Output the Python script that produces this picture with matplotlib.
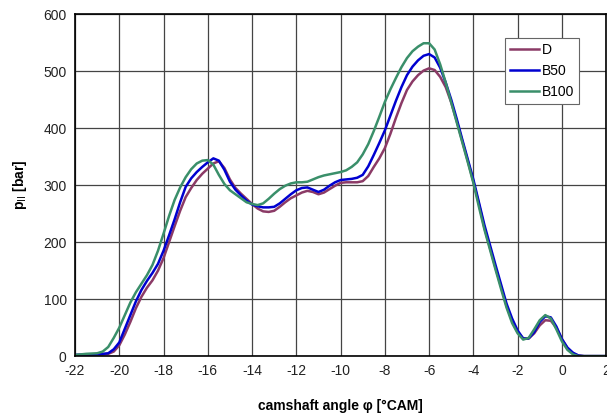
import numpy as np
import matplotlib
matplotlib.use("Agg")
import matplotlib.pyplot as plt

plt.rcParams['font.family'] = ['Liberation Sans', 'DejaVu Sans']
plt.rcParams['axes.unicode_minus'] = False

# angle de came [°CAM]
angle = [-22, -21.5, -21, -20.75, -20.5, -20.25,
         -20, -19.75, -19.5, -19.25, -19, -18.75, -18.5, -18.25,
         -18, -17.75, -17.5, -17.25, -17, -16.75, -16.5, -16.25,
         -16, -15.75, -15.5, -15.25, -15, -14.75, -14.5, -14.25,
         -14, -13.75, -13.5, -13.25, -13, -12.75, -12.5, -12.25,
         -12, -11.75, -11.5, -11.25, -11, -10.75, -10.5, -10.25,
         -10, -9.75, -9.5, -9.25, -9, -8.75, -8.5, -8.25,
         -8, -7.75, -7.5, -7.25, -7, -6.75, -6.5, -6.25,
         -6, -5.75, -5.5, -5.25, -5, -4.75, -4.5, -4.25,
         -4, -3.75, -3.5, -3.25, -3, -2.75, -2.5, -2.25,
         -2, -1.75, -1.5, -1.25, -1, -0.75, -0.5, -0.25,
         0, 0.25, 0.5, 0.75, 1, 1.5, 2]

# pression [bar]
p_d = [2, 2, 3, 3, 4, 8,
       19, 38, 60, 84, 104, 120, 133, 150,
       172, 200, 228, 255, 279, 295, 309, 320,
       329, 338, 342, 330, 310, 295, 285, 276,
       267, 259, 254, 253, 255, 262, 270, 277,
       282, 287, 290, 288, 284, 287, 293, 299,
       304, 305, 305, 305, 307, 316, 332, 347,
       365, 390, 418, 444, 467, 482, 493, 501,
       505, 502, 490, 472, 445, 412, 377, 342,
       306, 267, 225, 190, 155, 122, 88, 62,
       42, 31, 31, 40, 54, 63, 62, 50,
       30, 14, 5, 1, 0, 0, 0]

p_b50 = [2, 3, 3, 4, 5, 12,
         24, 48, 72, 96, 116, 132, 146, 162,
         185, 212, 240, 270, 297, 312, 323, 332,
         340, 347, 343, 327, 306, 292, 282, 273,
         266, 263, 261, 261, 262, 268, 276, 284,
         291, 295, 296, 292, 288, 292, 299, 305,
         309, 310, 311, 313, 318, 333, 353, 374,
         396, 422, 448, 472, 493, 508, 519, 527,
         530, 524, 506, 480, 450, 416, 380, 345,
         310, 270, 230, 195, 160, 126, 92, 66,
         45, 31, 31, 42, 60, 70, 68, 52,
         30, 15, 6, 1, 0, 0, 0]

p_b100 = [2, 4, 5, 8, 16, 32,
          50, 72, 94, 112, 127, 142, 160, 185,
          215, 246, 274, 296, 314, 328, 338, 343,
          344, 336, 318, 302, 291, 284, 277, 270,
          267, 265, 268, 276, 285, 293, 299, 303,
          305, 305, 306, 310, 314, 317, 319, 321,
          323, 326, 332, 340, 354, 372, 395, 420,
          446, 468, 488, 507, 523, 535, 543, 549,
          549, 538, 512, 480, 445, 410, 375, 340,
          304, 262, 222, 187, 152, 118, 85, 58,
          40, 29, 32, 47, 63, 72, 66, 47,
          26, 11, 3, 0, 0, 0, 0]

fig = plt.figure(figsize=(6.07, 4.17), dpi=100)
ax = fig.add_axes([0.1236, 0.146, 0.875, 0.82])

ax.plot(angle, p_d, color="#8B3A66", lw=1.8, label="D")
ax.plot(angle, p_b50, color="#0000D0", lw=1.8, label="B50")
ax.plot(angle, p_b100, color="#3A8F6A", lw=1.8, label="B100")

ax.set_xlim(-22, 2)
ax.set_ylim(0, 600)
ax.set_xticks(np.arange(-22, 3, 2))
ax.set_yticks(np.arange(0, 601, 100))
ax.tick_params(length=0, labelsize=10, pad=6, labelcolor="#222222")
ax.grid(True, color="#444444", lw=0.9)
for s in ax.spines.values():
    s.set_color("black")
    s.set_linewidth(1.2)

ax.set_ylabel(r"p$_{\rm II}$ [bar]", fontsize=10, fontweight="bold", labelpad=10)
ax.set_xlabel("camshaft angle φ [°CAM]", fontsize=10, fontweight="bold", labelpad=15)

leg = ax.legend(loc="upper left", bbox_to_anchor=(0.797, 0.95), fancybox=False,
                framealpha=1, edgecolor="#666666", fontsize=10, handlelength=2.1,
                handletextpad=0.15, borderpad=0.35, labelspacing=0.5)
leg.get_frame().set_linewidth(0.8)

fig.savefig("out.png", dpi=100)
